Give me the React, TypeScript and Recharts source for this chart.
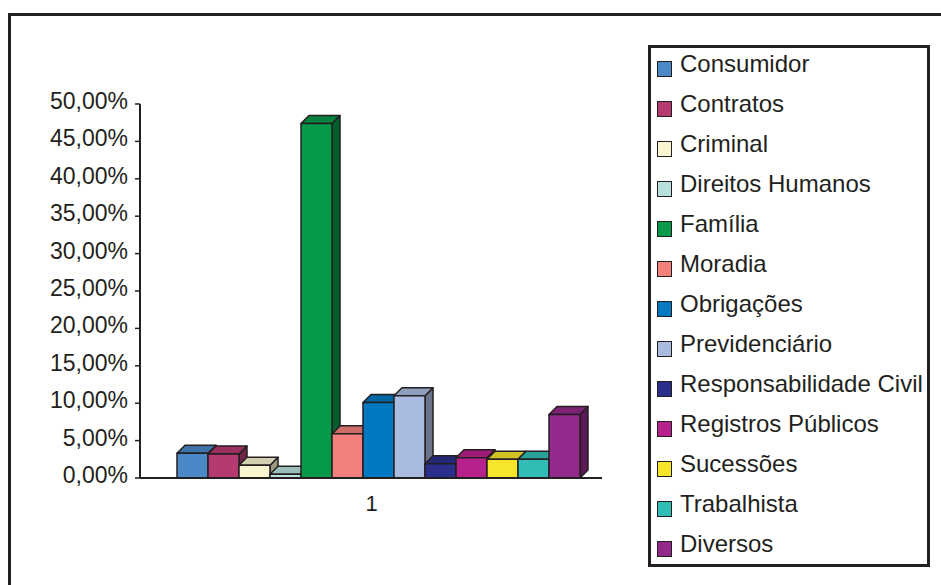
import { BarChart, Bar, XAxis, YAxis, Legend } from 'recharts';

const categories = ['1'];

const seriesNames = [
  'Consumidor',
  'Contratos',
  'Criminal',
  'Direitos Humanos',
  'Família',
  'Moradia',
  'Obrigações',
  'Previdenciário',
  'Responsabilidade Civil',
  'Registros Públicos',
  'Sucessões',
  'Trabalhista',
  'Diversos',
];

// percent share of each area
const seriesValues = [3.3, 3.2, 1.7, 0.5, 47.4, 5.9, 10.1, 11.0, 1.9, 2.7, 2.5, 2.5, 8.5];

const seriesColors = [
  '#4a88c8', '#b53a72', '#f8f5d0', '#b8e0dc', '#06994a', '#f3807a', '#0079c2',
  '#aabbe0', '#2b2f8c', '#b7218c', '#f7e52b', '#2fbdb5', '#93298a',
];

const yTicks = [0, 5, 10, 15, 20, 25, 30, 35, 40, 45, 50];

const FONT = '"Liberation Sans", Arial, Helvetica, sans-serif';
const INK = '#231f20';
const DEPTH = 8;

const data = categories.map((name) => {
  const row: Record<string, string | number> = { name };
  seriesNames.forEach((s, i) => {
    row[s] = seriesValues[i];
  });
  return row;
});

const shade = (hex: string, f: number) => {
  const n = parseInt(hex.slice(1), 16);
  const r = Math.round(((n >> 16) & 255) * f);
  const g = Math.round(((n >> 8) & 255) * f);
  const b = Math.round((n & 255) * f);
  return `rgb(${r},${g},${b})`;
};

const fmtPct = (v: number) => `${v.toFixed(2).replace('.', ',')}%`;

// 3D column: front face, top face and right side
const Box3D = (props: any) => {
  const { x, y, width: w, height: h, fill } = props;
  if (w == null || h == null) return null;
  const d = DEPTH;
  return (
    <g stroke={INK} strokeWidth={1.5} strokeLinejoin="round">
      <polygon
        points={`${x + w},${y} ${x + w + d},${y - d} ${x + w + d},${y + h - d} ${x + w},${y + h}`}
        fill={shade(fill, 0.62)}
      />
      <polygon
        points={`${x},${y} ${x + d},${y - d} ${x + w + d},${y - d} ${x + w},${y}`}
        fill={shade(fill, 0.85)}
      />
      <rect x={x} y={y} width={w} height={h} fill={fill} />
    </g>
  );
};

const YTick = (props: any) => {
  const { x, y, payload } = props;
  return (
    <text x={x} y={y + 5} textAnchor="end" fontSize={23} fill={INK} fontFamily={FONT}>
      {fmtPct(payload.value)}
    </text>
  );
};

const XTick = (props: any) => {
  const { x, y, payload } = props;
  return (
    <text x={x - 8} y={y + 25} textAnchor="middle" fontSize={22} fill={INK} fontFamily={FONT}>
      {payload.value}
    </text>
  );
};

const LegendBox = () => (
  <div
    style={{
      border: `3px solid ${INK}`,
      boxSizing: 'border-box',
      width: 282,
      height: 522,
      position: 'relative',
      fontFamily: FONT,
      color: INK,
    }}
  >
    {seriesNames.map((s, i) => (
      <div
        key={s}
        style={{ position: 'absolute', left: 0, top: i * 40 - 4, height: 40, width: '100%' }}
      >
        <div
          style={{
            position: 'absolute',
            left: 6,
            top: 17,
            width: 15,
            height: 16,
            boxSizing: 'border-box',
            border: `1.5px solid ${INK}`,
            background: seriesColors[i],
          }}
        />
        <div
          style={{
            position: 'absolute',
            left: 29,
            top: 0,
            fontSize: 24,
            lineHeight: '40px',
            whiteSpace: 'nowrap',
          }}
        >
          {s}
        </div>
      </div>
    ))}
  </div>
);

export default function App() {
  return (
    <div style={{ position: 'absolute', left: 0, top: 0, width: 941, height: 585, background: '#fff' }}>
      <div
        style={{
          position: 'absolute',
          left: 8,
          top: 13,
          width: 940,
          height: 580,
          borderTop: `3px solid ${INK}`,
          borderLeft: `3px solid ${INK}`,
        }}
      />
      <BarChart
        width={941}
        height={585}
        data={data}
        margin={{ top: 104, right: 339, bottom: 77, left: 0 }}
        barCategoryGap={0}
        barGap={0}
      >
        <XAxis
          dataKey="name"
          height={30}
          padding={{ left: 37, right: 20 }}
          axisLine={{ stroke: INK, strokeWidth: 2 }}
          tickLine={false}
          tick={<XTick />}
        />
        <YAxis
          width={140}
          domain={[0, 50]}
          ticks={yTicks}
          interval={0}
          axisLine={{ stroke: INK, strokeWidth: 2 }}
          tickLine={{ stroke: INK, strokeWidth: 1.5 }}
          tickSize={5}
          tickMargin={7}
          tick={<YTick />}
        />
        <Legend
          layout="vertical"
          align="center"
          verticalAlign="middle"
          wrapperStyle={{ left: 648, top: 45, width: 282 }}
          content={() => <LegendBox />}
        />
        {seriesNames.map((s, i) => (
          <Bar
            key={s}
            dataKey={s}
            fill={seriesColors[i]}
            shape={<Box3D />}
            isAnimationActive={false}
          />
        ))}
      </BarChart>
    </div>
  );
}
